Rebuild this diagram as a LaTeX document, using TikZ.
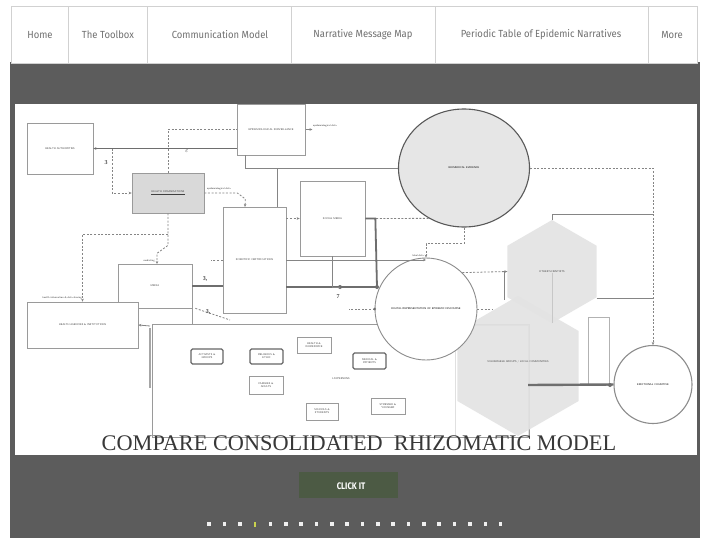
\documentclass[tikz,border=0pt]{standalone}
\usepackage{fontspec}
\setmainfont{Liberation Serif}
\newfontfamily\menufont{Fira Sans}
\usetikzlibrary{shapes.geometric,arrows.meta,calc}

\definecolor{panelc}{HTML}{5C5C5C}
\definecolor{menuc}{HTML}{707070}
\definecolor{boxc}{HTML}{9A9A9A}
\definecolor{linec}{HTML}{858585}
\definecolor{heavyc}{HTML}{6E6E6E}
\definecolor{greyfill}{HTML}{D9D9D9}
\definecolor{circfill}{HTML}{E6E6E6}
\definecolor{hexc}{HTML}{E3E3E3}
\definecolor{btnc}{HTML}{4C5A44}
\definecolor{dotc}{HTML}{F0F0F0}
\definecolor{dotsel}{HTML}{C9D24E}
\definecolor{titlec}{HTML}{383838}

\newcommand\labfont{\fontsize{2.6}{3.1}\selectfont\sffamily}

\tikzset{
  box/.style={draw=boxc, line width=0.7, fill=white, inner sep=1, font=\labfont,
    align=center, text=black!75},
  rbox/.style={box, rounded corners=1.5, line width=1.1, draw=black!60},
  ln/.style={draw=linec, line width=0.8},
  dsh/.style={draw=linec, line width=0.8, dash pattern=on 2pt off 1.6pt},
  heavy/.style={draw=heavyc, line width=2.4},
  tip/.style={-{Stealth[length=3pt,width=2.6pt]}},
  jdot/.style={circle, fill=heavyc, inner sep=0, minimum size=4},
  glyph/.style={font=\fontsize{6}{6}\selectfont\bfseries, text=black!70, inner sep=0},
  elab/.style={font=\labfont, text=black!75, inner sep=0},
  menuitem/.style={font=\menufont\fontsize{10.3}{11}\selectfont, text=menuc},
}

\begin{document}
\begin{tikzpicture}[x=1pt,y=-1pt]
\useasboundingbox (0,0) rectangle (709,538);
\fill[white] (0,0) rectangle (709,538);

% page frame and menu bar
\fill[panelc] (10,62) rectangle (700,538);
\fill[white] (11,6) rectangle (697,63);
\draw[black!18, line width=0.6] (11,6) rectangle (697,63);
\foreach \sx in {68,147,291,435,648}
  \draw[black!18, line width=0.6] (\sx,6) -- (\sx,63);
\node[menuitem] (m1) at (40,35) {\scalebox{0.92}[1]{Home}};
\node[menuitem] (m2) at (108,35) {\scalebox{0.92}[1]{The Toolbox}};
\node[menuitem] (m3) at (220,35) {\scalebox{0.92}[1]{Communication Model}};
\node[menuitem] (m4) at (363,35) {\scalebox{0.92}[1]{Narrative Message Map}};
\node[menuitem] (m5) at (541,35) {\scalebox{0.92}[1]{Periodic Table of Epidemic Narratives}};
\node[menuitem] (m6) at (672,35) {\scalebox{0.92}[1]{More}};

% slide area
\fill[white] (15,104) rectangle (697,455);

% ---------- nodes ----------
\node[box, minimum width=377, minimum height=113] (L) at (340.5,380.5) {};
\node[elab] (Llab) at (341,379) {LAYPERSONS};

% hexagons
\fill[hexc, opacity=0.92] (518,296) -- (578.6,331) -- (578.6,401) -- (518,436)
  -- (457.4,401) -- (457.4,331) -- cycle;
\draw[black!12, line width=0.8] (455,436) -- (455,325) -- (528,325) -- (528,436);
\fill[hexc, opacity=0.92] (552,220) -- (596.6,245.75) -- (596.6,297.25) -- (552,323)
  -- (507.4,297.25) -- (507.4,245.75) -- cycle;
\coordinate (H1w) at (507.4,271.5);
\node[elab] (H1) at (552,271.5) {OTHER SCIENTISTS};
\node[elab] (H2) at (518,362) {VULNERABLE GROUPS / LOCAL COMMUNITIES};
\draw[black!22, line width=0.6] (H1.south) -- (552,323);
\node[box, draw=black!30, minimum width=21, minimum height=68] (N) at (598.5,351) {};

\node[box, minimum width=66, minimum height=51] (A) at (60,148.5) {HEALTH AUTHORITIES};
\node[box, minimum width=68, minimum height=51, line width=1] (E) at (271,129.5) {EPIDEMIOLOGICAL SURVEILLANCE};
\node[box, fill=greyfill, minimum width=72, minimum height=40] (G) at (168,193) {\underline{HEALTH ORGANISATIONS}};
\node[box, minimum width=63, minimum height=106] (C) at (254.5,260) {SCIENTIFIC CERTIFICATIONS};
\node[box, minimum width=65, minimum height=75] (S) at (332.5,218.5) {SOCIAL MEDIA};
\node[box, minimum width=74, minimum height=44] (M) at (155,286) {MEDIA};
\node[box, minimum width=111, minimum height=46] (HP) at (82.5,325) {HEALTH AGENCIES \& INSTITUTIONS};
\node[ellipse, draw=black!65, line width=1.1, fill=circfill, minimum width=131,
  minimum height=118, font=\labfont, inner sep=0] (B) at (464,168) {BIOMEDICAL EVIDENCE};
\node[circle, draw=black!45, line width=0.9, fill=white, minimum size=102,
  font=\labfont, inner sep=0] (D) at (426,309) {DIGITAL REPRESENTATION OF EPIDEMIC DISCOURSE};
\node[circle, draw=black!45, line width=1.1, fill=white, minimum size=78,
  font=\labfont, inner sep=0] (R) at (653,384.5) {EMOTIONAL COGNITIVE};

% groups inside the lay audience box
\node[rbox, minimum width=32, minimum height=15] (g1) at (207,356.5) {ACTIVISTS \&\\ GROUPS};
\node[rbox, minimum width=33, minimum height=15] (g2) at (266.5,356.5) {RELIGIOUS \&\\ ETHIC};
\node[box, minimum width=34, minimum height=16] (g3) at (314,345) {HEALTH \&\\ WORKFORCE};
\node[rbox, minimum width=33, minimum height=16] (g4) at (369.5,361) {MEDICAL \&\\ PATIENTS};
\node[box, minimum width=34, minimum height=18] (g5) at (266,385) {FAMILIES \&\\ ADULTS};
\node[box, minimum width=32, minimum height=17] (g6) at (322,411.5) {SCHOOLS \&\\ STUDENTS};
\node[box, minimum width=34, minimum height=16] (g7) at (388,406) {STRESSED \&\\ YOUNGER};

% ---------- connectors ----------
% authorities <-> surveillance
\draw[heavy, line width=1.4, tip] (A.east -| E.west) -- (A.east);
\node[glyph] (k1) at (187,151) {$\varepsilon$};
\coordinate (j1) at (112,148.5);
\draw[dsh, tip] (j1) |- (G.west);
\node[glyph] (k2) at (106,163) {3};
\draw[dsh] (G.north) |- (E.west);
% surveillance outputs
\draw[ln, tip] (E.east) -- ++(7,0);
\node[elab, anchor=west] (ed1) at (313,126) {epidemiological data};
\coordinate (eb) at (245,155);
\draw[ln] (eb) |- (B.west);
\coordinate (cb) at (277,168);
\draw[ln] (cb) -- (cb |- C.north);
% organisations to certifications
\coordinate (cn) at (245,207);
\draw[dsh, tip] (G.east) -- ++(33,0) -- ++(8,6) -- (cn);
\node[elab, anchor=west] (ed2) at (207,189) {epidemiological data};
% organisations down to media and agencies
\coordinate (mn) at (157,264);
\draw[dsh, tip] (G.south) -- ++(0,32) -- ++(-11,8) -- (mn);
\node[elab, anchor=east] (ml) at (155,261) {mediating};
\coordinate (hd) at (168,234);
\draw[dsh, tip] (hd) -| (HP.north);
\node[elab, anchor=east] (hl) at (82,298) {health information \& data sharing};
% certifications to digital representation
\draw[ln, tip] (C.east) -- (C.east -| D.north);
\node[elab, anchor=east] (ld) at (424,256) {label data};
\draw[dsh] (C.west) -- ++(-12,0);
% media main strand
\draw[heavy] (M.east) -- (M.east -| C.west);
\coordinate (j2) at (340,287);
\coordinate (j3) at (377,287);
\draw[heavy] (C.east |- j2) -- (j3);
\node[jdot] (jd2) at (j2) {};
\node[jdot] (jd3) at (j3) {};
\node[glyph] (k3) at (205,279) {3,};
\node[glyph] (k4) at (338,297) {7};
% social media
\draw[dsh, tip] (C.east |- S.west) -- (S.west);
\draw[dsh] (S.east) -- (B.235);
\draw[heavy, line width=1.8] (S.east) -- ++(10,0) -- (j3);
\draw[ln] (S.south) -- (S.south |- j2) -- (j2);
% evidence to digital representation and cognition
\draw[dsh, tip] (B.south) -- ++(0,16) -| (D.north);
\draw[dsh, tip] (B.east) -| (R.north);
% digital representation to the scientists
\draw[dsh, tip] (D.45) -- (H1w);
\draw[ln] (H1w) -- ++(-3,0) -- ++(0,28);
\draw[dsh] (D.east) -- ++(16,0);
\draw[dsh] (D.west) -- ++(-26,0);
\node[jdot, minimum size=3] (jd4) at (D.west) {};
% upper right frame lines
\draw[ln, line width=0.6] (552,220) -- (552,214) -- (653,214);
\draw[ln, line width=0.6] (596.6,298) -- (653,298);
% vulnerable groups to cognition
\draw[heavy] (528,385) -- (R.west);
\node[jdot] (jd5) at (610,385) {};
% agencies and media into the lay audience
\draw[draw=black!35, line width=1.8] (150,328) -- (150,388);
\draw[ln, tip] (150,326) -- (HP.east);
\draw[draw=black!40, line width=1.4] (M.south east) -- ++(0,16);
\draw[dsh] (M.south east) ++(3,0) -- (230,320);
\node[glyph] (k5) at (208,312) {3,};

% title
\node[font=\fontsize{22.3}{23}\selectfont, text=titlec] (title) at (359,443)
  {COMPARE CONSOLIDATED\ \ RHIZOMATIC MODEL};

% button
\fill[btnc] (299,472) rectangle (398,498);
\node[font=\menufont\bfseries\fontsize{9.5}{10}\selectfont, text=white] (btn) at (351,486)
  {\scalebox{0.82}[1]{CLICK IT}};

% slide indicator
\foreach \i in {0,...,19} {
  \pgfmathsetmacro\dx{209+15.35*\i}
  \ifnum\i=3
    \fill[dotsel] (\dx-1,522) rectangle (\dx+1,526.5);
  \else
    \fill[dotc] (\dx-1.8,522.2) rectangle (\dx+1.8,526.2);
  \fi
}
\end{tikzpicture}
\end{document}
